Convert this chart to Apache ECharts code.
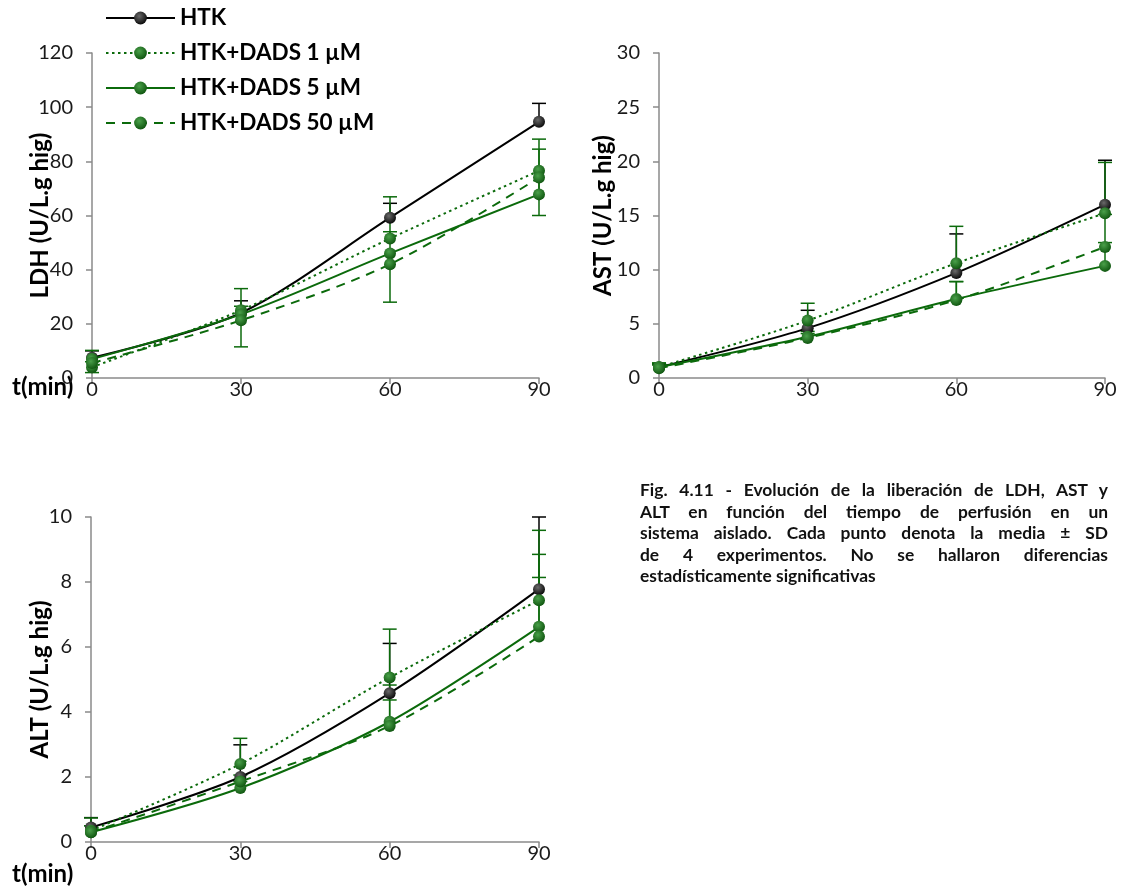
<!DOCTYPE html>
<html>
<head>
<meta charset="utf-8">
<script src="https://cdn.jsdelivr.net/npm/echarts@6/dist/echarts.min.js"></script>
<style>
  html, body { margin: 0; padding: 0; background: #fff; }
  #wrap { position: relative; width: 1121px; height: 891px; }
  #chart { position: absolute; left: 0; top: 0; width: 1121px; height: 891px; }
  #caption {
    position: absolute; left: 640px; top: 479px; width: 468px;
    font-family: Lato, sans-serif; font-weight: bold; font-size: 17.4px;
    line-height: 21.6px; color: #111; white-space: nowrap;
  }
  #caption div { text-align: justify; text-align-last: justify; }
  #caption div.last { text-align: left; text-align-last: left; }
</style>
</head>
<body>
<div id="wrap">
  <div id="chart"></div>
  <div id="caption">
    <div>Fig. 4.11 - Evolución de la liberación de LDH, AST y</div>
    <div>ALT en función del tiempo de perfusión en un</div>
    <div>sistema aislado. Cada punto denota la media ± SD</div>
    <div>de 4 experimentos. No se hallaron diferencias</div>
    <div class="last">estadísticamente significativas</div>
  </div>
</div>
<script>
// Perfusion time points (min)
const times = [0, 30, 60, 90];
const seriesNames = ['HTK', 'HTK+DADS 1 µM', 'HTK+DADS 5 µM', 'HTK+DADS 50 µM'];

// LDH release (U/L.g hig): means and SD
const ldhHTK = [7.5, 24.0, 59.2, 94.6];
const ldhD1 = [4.0, 25.0, 51.5, 76.5];
const ldhD5 = [7.0, 23.5, 46.0, 67.8];
const ldhD50 = [5.5, 21.3, 42.0, 74.0];
const ldhHTKsd = [2.5, 4.5, 5.3, 6.8];
const ldhD1sd = [2.0, 8.0, 15.4, 11.7];
const ldhD5sd = [3.2, 3.0, 8.0, 16.7];
const ldhD50sd = [3.5, 9.8, 14.0, 14.0];
const ldhErrSide = ['+', '+', '+', '-'];

// AST release (U/L.g hig)
const astHTK = [1.0, 4.6, 9.7, 16.0];
const astD1 = [1.0, 5.3, 10.6, 15.2];
const astD5 = [1.0, 3.8, 7.3, 10.35];
const astD50 = [0.9, 3.7, 7.2, 12.1];
const astHTKsd = [0.3, 1.65, 3.6, 4.1];
const astD1sd = [0.4, 1.6, 3.4, 4.7];
const astD5sd = [0.3, 0.5, 1.6, 2.15];
const astD50sd = [0.3, 0.4, 1.7, 3.0];
const astErrSide = ['+', '+', '+', '+'];

// ALT release (U/L.g hig)
const altHTK = [0.45, 2.0, 4.58, 7.78];
const altD1 = [0.35, 2.4, 5.06, 7.44];
const altD5 = [0.3, 1.66, 3.7, 6.62];
const altD50 = [0.3, 1.86, 3.57, 6.32];
const altHTKsd = [0.3, 0.99, 1.53, 2.22];
const altD1sd = [0.39, 0.79, 1.49, 2.15];
const altD5sd = [0.2, 0.2, 1.13, 2.23];
const altD50sd = [0.2, 0.2, 0.8, 1.82];
const altErrSide = ['+', '+', '+', '+'];

// Y axis ranges
const yMax = [120, 30, 10];
const yStep = [20, 5, 2];
const yNames = ['LDH (U/L.g hig)', 'AST (U/L.g hig)', 'ALT (U/L.g hig)'];

const FONT = 'Lato, sans-serif';
const GREEN = '#0b6a0b';
const BLACK = '#000000';
const lineColors = [BLACK, GREEN, GREEN, GREEN];
const lineTypes = ['solid', [2.5, 3.5], 'solid', [9, 7]];

function markerFill(dark) {
  return dark
    ? { type: 'radial', x: 0.4, y: 0.35, r: 0.7, colorStops: [{ offset: 0, color: '#6a6a6a' }, { offset: 1, color: '#050505' }] }
    : { type: 'radial', x: 0.4, y: 0.35, r: 0.7, colorStops: [{ offset: 0, color: '#4aa04a' }, { offset: 1, color: '#0c520c' }] };
}

const panels = [
  { vals: [ldhHTK, ldhD1, ldhD5, ldhD50], sds: [ldhHTKsd, ldhD1sd, ldhD5sd, ldhD50sd], side: ldhErrSide },
  { vals: [astHTK, astD1, astD5, astD50], sds: [astHTKsd, astD1sd, astD5sd, astD50sd], side: astErrSide },
  { vals: [altHTK, altD1, altD5, altD50], sds: [altHTKsd, altD1sd, altD5sd, altD50sd], side: altErrSide }
];

const grids = [
  { left: 92, top: 53, width: 447, height: 325 },
  { left: 659, top: 53, width: 446, height: 325 },
  { left: 91, top: 517, width: 448, height: 325 }
];
const nameGaps = [40, 44, 39];

const axisGray = '#8a8a8a';
const xAxes = grids.map((g, i) => ({
  type: 'value', gridIndex: i, min: 0, max: 90, interval: 30,
  axisLine: { show: true, lineStyle: { color: axisGray, width: 1.5 } },
  axisTick: { show: true, length: 6, lineStyle: { color: axisGray, width: 1.5 } },
  axisLabel: { fontFamily: FONT, fontSize: 20, color: '#1a1a1a', margin: 2 },
  splitLine: { show: false }
}));
const yAxes = grids.map((g, i) => ({
  type: 'value', gridIndex: i, min: 0, max: yMax[i], interval: yStep[i],
  name: yNames[i], nameLocation: 'middle', nameGap: nameGaps[i], nameMoveOverlap: false,
  nameTextStyle: { fontFamily: FONT, fontWeight: 'bold', fontSize: 24, color: '#000' },
  axisLine: { show: true, lineStyle: { color: axisGray, width: 1.5 } },
  axisTick: { show: true, length: 6, lineStyle: { color: axisGray, width: 1.5 } },
  axisLabel: { fontFamily: FONT, fontSize: 20, color: '#1a1a1a', margin: 19 },
  splitLine: { show: false }
}));

const series = [];
panels.forEach((p, gi) => {
  // error bars first so markers sit on top
  p.vals.forEach((v, si) => {
    const sd = p.sds[si];
    const sign = p.side[si] === '-' ? -1 : 1;
    const color = lineColors[si];
    series.push({
      type: 'custom', xAxisIndex: gi, yAxisIndex: gi, silent: true, z: 3,
      data: times.map((t, k) => [t, v[k], v[k] + sign * sd[k]]),
      renderItem: function (params, api) {
        const a = api.coord([api.value(0), api.value(1)]);
        const b = api.coord([api.value(0), api.value(2)]);
        const w = 7;
        return {
          type: 'group', children: [
            { type: 'line', shape: { x1: a[0], y1: a[1], x2: b[0], y2: b[1] }, style: { stroke: color, lineWidth: 1.5 } },
            { type: 'line', shape: { x1: b[0] - w, y1: b[1], x2: b[0] + w, y2: b[1] }, style: { stroke: color, lineWidth: 1.5 } }
          ]
        };
      }
    });
  });
  p.vals.forEach((v, si) => {
    series.push({
      type: 'line', name: seriesNames[si], xAxisIndex: gi, yAxisIndex: gi, z: 4,
      data: times.map((t, k) => [t, v[k]]),
      smooth: 0.3,
      symbol: 'circle', symbolSize: 12, showSymbol: true,
      itemStyle: { color: markerFill(si === 0), borderWidth: 0 },
      lineStyle: { color: lineColors[si], width: 2, type: lineTypes[si] },
      emphasis: { disabled: true }
    });
  });
});

const chart = echarts.init(document.getElementById('chart'), null, { renderer: 'canvas' });
chart.setOption({
  animation: false,
  backgroundColor: '#fff',
  grid: grids,
  xAxis: xAxes,
  yAxis: yAxes,
  legend: {
    data: seriesNames, orient: 'vertical', left: 100, top: 0,
    itemWidth: 69, itemHeight: 16, itemGap: 9, selectedMode: false,
    textStyle: { fontFamily: FONT, fontWeight: 'bold', fontSize: 22.5, lineHeight: 26, color: '#000' }
  },
  graphic: [
    { type: 'text', left: 12, top: 375, style: { text: 't(min)', font: 'bold 24px Lato, sans-serif', fill: '#000' } },
    { type: 'text', left: 12, top: 862, style: { text: 't(min)', font: 'bold 24px Lato, sans-serif', fill: '#000' } }
  ],
  series: series
});
</script>
</body>
</html>
